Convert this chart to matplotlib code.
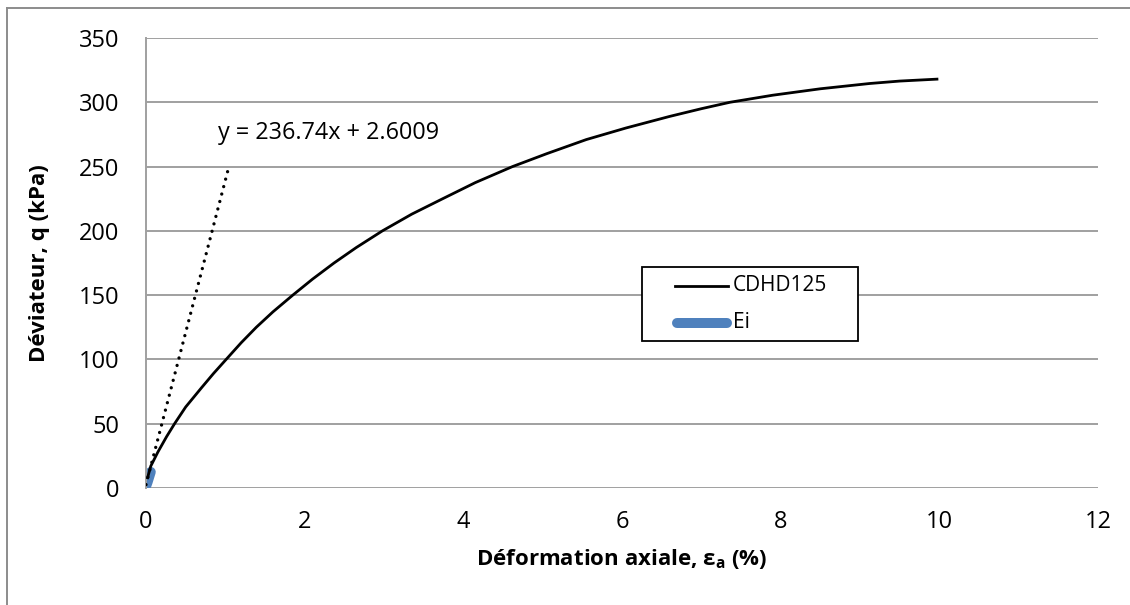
import numpy as np
import matplotlib
matplotlib.use('Agg')
import matplotlib.pyplot as plt
from matplotlib.lines import Line2D
from matplotlib.patches import Rectangle

plt.rcParams['font.family'] = ['Open Sans', 'DejaVu Sans']

# CDHD125 curve (deformation %, deviator kPa)
eps_a = [0.02, 0.06, 0.15, 0.26, 0.36, 0.5, 0.7, 0.85, 1.01, 1.2, 1.39,
         1.6, 1.85, 2.1, 2.37, 2.65, 2.98, 3.35, 3.74, 4.15, 4.62, 5.05,
         5.55, 6.05, 6.6, 7.0, 7.36, 7.9, 8.5, 9.12, 9.5, 9.97]
q_dev = [8, 17, 28, 40, 50, 63, 78, 89, 100, 113, 125,
         137, 150, 162.5, 175, 187, 200, 213, 225, 237.5, 250, 260,
         271, 280, 289, 295, 300, 305.5, 310.5, 314.6, 316.5, 318]

# Ei points (initial part)
ei_x = [0.005, 0.02, 0.035, 0.05, 0.06]
ei_q = [2.0, 4.5, 7.5, 10.5, 12.5]

# linear trendline fitted on Ei
slope = 236.74
intercept = 2.6009
trend_x = [0.0, 1.045]

W, H = 1130, 605
fig = plt.figure(figsize=(W / 100, H / 100), dpi=100)
ax = fig.add_axes([146 / W, 1 - 488 / H, (1098 - 146) / W, (488 - 38) / H])


def fx(px):
    return px / W


def fy(py):
    return 1 - py / H


grid_col = '#a0a0a0'
blue = '#4F81BD'

ax.plot(eps_a, q_dev, color='black', lw=2.0, zorder=3)
ax.plot(ei_x, ei_q, color=blue, lw=7.2, solid_capstyle='round', zorder=2)
tx = np.array(trend_x)
ax.plot(tx, slope * tx + intercept, color='black', lw=2.4,
        linestyle=(0, (0.01, 2.3)), dash_capstyle='round', zorder=4)

ax.text(0.91, 276, 'y = 236.74x + 2.6009', fontsize=16.8, va='center', ha='left')

ax.set_xlim(0, 12)
ax.set_ylim(0, 350)
ax.set_xticks(range(0, 13, 2))
ax.set_yticks(range(0, 351, 50))
ax.tick_params(length=0, labelsize=17)
ax.tick_params(axis='y', pad=19)
ax.tick_params(axis='x', pad=16)

ax.grid(axis='y', color=grid_col, lw=1.4)
ax.set_axisbelow(True)
for s in ['top', 'right', 'bottom']:
    ax.spines[s].set_visible(False)
ax.spines['left'].set_color(grid_col)
ax.spines['left'].set_linewidth(1.4)

ax.set_xlabel('Déformation axiale, ε$_\\mathregular{a}$ (%)', fontsize=16,
              fontweight='bold', labelpad=9)
ax.set_ylabel('Déviateur, q (kPa)', fontsize=16, fontweight='bold')
ax.yaxis.set_label_coords((50 - 146) / (1098 - 146), 0.5)

# legend box drawn by hand to match the original layout
fig.add_artist(Rectangle((fx(642), fy(341)), fx(858) - fx(642), fy(267) - fy(341),
                         transform=fig.transFigure, facecolor='white',
                         edgecolor='black', lw=1.3, zorder=5))
fig.add_artist(Line2D([fx(675), fx(728)], [fy(286), fy(286)], color='black',
                      lw=2.0, zorder=6))
fig.text(fx(733), fy(286), 'CDHD125', fontsize=15, va='center', ha='left', zorder=6)
fig.add_artist(Line2D([fx(677), fx(727)], [fy(323), fy(323)], color=blue,
                      lw=7.2, solid_capstyle='round', zorder=6))
fig.text(fx(733), fy(323), 'Ei', fontsize=15, va='center', ha='left', zorder=6)

# outer chart border (left and top only visible)
fig.add_artist(Line2D([fx(7), fx(7)], [0, fy(8)], color='#8c8c8c', lw=1.4))
fig.add_artist(Line2D([fx(7), 1], [fy(8), fy(8)], color='#8c8c8c', lw=1.4))

fig.savefig('out.png', dpi=100, facecolor='white')
